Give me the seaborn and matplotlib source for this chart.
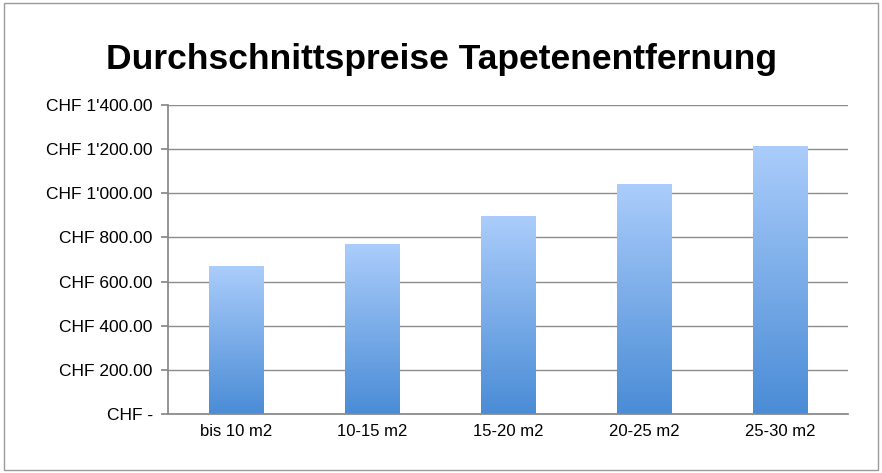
import matplotlib
matplotlib.use("Agg")
import matplotlib.pyplot as plt
import numpy as np
import pandas as pd
import seaborn as sns
from matplotlib.colors import LinearSegmentedColormap
from matplotlib.patches import Rectangle

categories = ["bis 10 m2", "10-15 m2", "15-20 m2", "20-25 m2", "25-30 m2"]
prices = [671, 771, 898, 1043, 1215]
y_ticks = [0, 200, 400, 600, 800, 1000, 1200, 1400]
y_labels = ["CHF -", "CHF 200.00", "CHF 400.00", "CHF 600.00", "CHF 800.00",
            "CHF 1'000.00", "CHF 1'200.00", "CHF 1'400.00"]

sns.set_theme(style="white")
plt.rcParams["font.family"] = ["Liberation Sans", "DejaVu Sans"]

df = pd.DataFrame({"cat": categories, "price": prices})
fig = plt.figure(figsize=(8.82, 4.73), dpi=100)
ax = fig.add_axes([168 / 882, 1 - 414 / 473, 680 / 882, 309 / 473])
sns.barplot(data=df, x="cat", y="price", ax=ax, width=0.4, color="#7fb0ee")

# vertical gradient fill clipped to each bar
cmap = LinearSegmentedColormap.from_list("g", ["#4a8cd6", "#abcdfb"])
grad = np.linspace(0, 1, 256).reshape(-1, 1)
for bar in ax.patches:
    x0, w, h = bar.get_x(), bar.get_width(), bar.get_height()
    bar.set_alpha(0)
    im = ax.imshow(grad, cmap=cmap, origin="lower", aspect="auto",
                   extent=[x0, x0 + w, 0, h], zorder=2)
    clip = Rectangle((x0, 0), w, h, transform=ax.transData)
    im.set_clip_path(clip)
ax.set_xlim(-0.5, len(categories) - 0.5)
ax.set_ylim(0, 1400)

ax.set_yticks(y_ticks)
ax.set_yticklabels(y_labels, fontsize=12.5, color="black")
ax.tick_params(axis="x", labelsize=12, length=0, pad=7, labelcolor="black")
ax.tick_params(axis="y", length=5, pad=6, left=True, color="#888888")
ax.yaxis.grid(True, color="#8c8c8c", linewidth=1)
ax.set_axisbelow(True)
ax.set_xlabel("")
ax.set_ylabel("")
for s in ["top", "right"]:
    ax.spines[s].set_visible(False)
ax.spines["left"].set_color("#888888")
ax.spines["bottom"].set_color("#888888")

fig.text(0.5, 1 - 60 / 473, "Durchschnittspreise Tapetenentfernung",
         ha="center", va="center", fontsize=25.5, fontweight="bold", color="black")
fig.add_artist(Rectangle((0.004, 0.006), 0.992, 0.988, transform=fig.transFigure,
                         fill=False, edgecolor="#9a9a9a", linewidth=1))
fig.savefig("out.png", dpi=100)
